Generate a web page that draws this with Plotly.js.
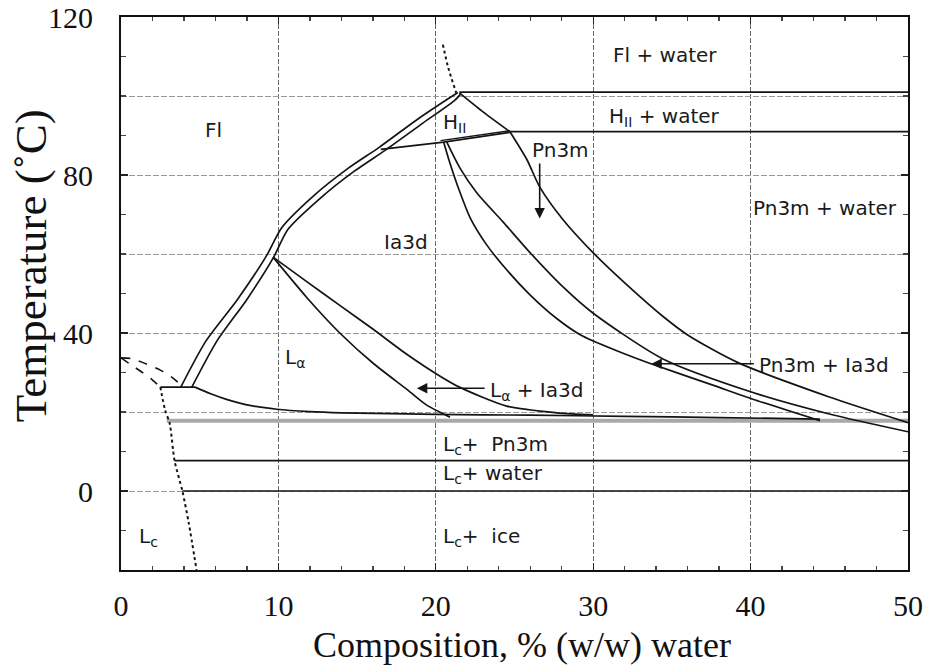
<!DOCTYPE html>
<html>
<head>
<meta charset="utf-8">
<script src="https://cdn.plot.ly/plotly-3.0.1.min.js"></script>
<style>html,body{margin:0;padding:0;background:#fff;}#chart{width:927px;height:672px;}</style>
</head>
<body>
<div id="chart"></div>
<script>
// ---- data (composition % w/w water, temperature °C) ----
const flOuterX = [3.8, 5.4, 7.4, 9.25, 10.2, 12.2, 14.4, 16.4, 18.8, 20.9, 21.4];
const flOuterY = [26.3, 38, 48.5, 59.6, 66.6, 74.6, 81.6, 87, 94, 99.6, 100.9];
const flInnerX = [4.5, 6.1, 8.0, 9.7, 10.6, 12.6, 14.8, 16.8, 19.2, 21.2, 21.6];
const flInnerY = [26.3, 38, 48.5, 59.2, 66.2, 73.9, 80.9, 86.3, 93.2, 98.9, 100.6];

const hiiRightX = [21.5, 23.0, 24.7];
const hiiRightY = [100.8, 96, 91];
const hiiBottomX = [16.5, 20.5, 24.7];
const hiiBottomY = [86.5, 88.3, 90.8];
const hiiBottom2X = [20.3, 22.5, 24.7];
const hiiBottom2Y = [88.7, 90.0, 91.2];

const flWaterX = [21.5, 50];
const flWaterY = [101, 101];
const hiiWaterX = [24.7, 50];
const hiiWaterY = [91, 91];

const pn3mX = [24.7, 25.8, 26.6, 28.1, 30, 32.3, 34.4, 36, 39.2, 45, 50];
const pn3mY = [91, 83.8, 77, 68.6, 60.3, 51.6, 44.3, 39.5, 32.5, 23.8, 17.3];
const curveBX = [20.7, 21.5, 22.6, 24.3, 26, 28.1, 30, 34.4, 40.1, 45, 50];
const curveBY = [88.3, 82, 75.5, 68, 60.3, 51.6, 45, 33.5, 25, 19.5, 15];
const curveAX = [20.5, 20.9, 21.5, 22.2, 23.2, 24.5, 26, 27.7, 29.2, 31.5, 33.4, 37.6, 40.1, 44.4];
const curveAY = [88.3, 83, 76, 69, 62.5, 56, 49.6, 43.6, 39.5, 35.5, 32.6, 26.8, 23.3, 17.8];

const laLowX = [9.66, 11.8, 13.9, 16.0, 18.2, 19.4, 20.9];
const laLowY = [59.2, 49, 40, 32.4, 25.6, 21.8, 18.7];
const laUpX = [9.66, 11.8, 13.9, 16.0, 18.2, 20.3, 21.5, 24.5, 27.7, 30];
const laUpY = [59.2, 53, 47, 41, 34.5, 29, 26.3, 21.5, 19.8, 19.3];

const lcTopX = [4.7, 5.7, 6.7, 8, 9.9, 12, 14, 20, 26, 32, 38, 44.4];
const lcTopY = [26.3, 24.6, 23.2, 21.8, 20.7, 20.1, 19.8, 19.4, 19.2, 18.9, 18.6, 18.2];
const tieX = [2.5, 4.7];
const tieY = [26.3, 26.3];
const bandX = [2.9, 50];
const bandY = [17.8, 17.8];
const waterLineX = [3.4, 50];
const waterLineY = [7.7, 7.7];
const iceLineX = [3.9, 50];
const iceLineY = [0, 0];

const dashUpX = [0, 0.7, 1.4, 2.5, 3.3, 3.9];
const dashUpY = [33.7, 33.5, 32.5, 30.6, 28.6, 26.5];
const dashLowX = [0, 0.7, 1.4, 2.0, 2.5];
const dashLowY = [33.7, 31.8, 29.9, 28.1, 26.3];
const dotX = [2.5, 2.8, 3.1, 3.4, 3.9, 4.3, 4.8];
const dotY = [26.3, 20.5, 17, 7.7, 0, -8, -20];
const topDotX = [20.45, 20.8, 21.3];
const topDotY = [113, 107, 100.8];

const xTickVals = [0, 10, 20, 30, 40, 50];
const yTickVals = [0, 40, 80, 120];
const yTickText = ['0', '40', '80', '120'];
const yGridVals = [20, 60, 100];
const xMinorVals = [2,4,6,8,12,14,16,18,22,24,26,28,32,34,36,38,42,44,46,48];
const yMinorVals = [-10,10,20,30,50,60,70,90,100,110];
const xTitle = 'Composition, % (w/w) water';
const yTitle = 'Temperature (˚C)';

// ---- drawing ----
const INK = '#141414';
function ln(x, y, opts) {
  opts = opts || {};
  return {
    x: x, y: y, type: 'scatter', mode: 'lines', hoverinfo: 'skip',
    line: {color: opts.color || INK, width: opts.width || 1.7, dash: opts.dash || 'solid',
           shape: opts.spline ? 'spline' : 'linear', smoothing: 0.7}
  };
}
const traces = [
  ln(bandX, bandY, {color: '#a9a9a9', width: 4}),
  ln(flOuterX, flOuterY, {spline: true}),
  ln(flInnerX, flInnerY, {spline: true}),
  ln(hiiRightX, hiiRightY, {spline: true}),
  ln(hiiBottomX, hiiBottomY),
  ln(hiiBottom2X, hiiBottom2Y, {width: 1.3}),
  ln(flWaterX, flWaterY),
  ln(hiiWaterX, hiiWaterY),
  ln(pn3mX, pn3mY, {spline: true}),
  ln(curveBX, curveBY, {spline: true}),
  ln(curveAX, curveAY, {spline: true}),
  ln(laLowX, laLowY, {spline: true}),
  ln(laUpX, laUpY, {spline: true}),
  ln(lcTopX, lcTopY, {spline: true}),
  ln(tieX, tieY),
  ln(waterLineX, waterLineY),
  ln(iceLineX, iceLineY),
  ln(dashUpX, dashUpY, {dash: 'dash', spline: true, width: 1.6}),
  ln(dashLowX, dashLowY, {dash: 'dash', spline: true, width: 1.6}),
  ln(dotX, dotY, {dash: 'dot', spline: true, width: 2}),
  ln(topDotX, topDotY, {dash: 'dot', spline: true, width: 2})
];

const LF = {family: 'DejaVu Sans, Liberation Sans, sans-serif', size: 20, color: '#1a1a1a'};
function lab(text, x, y, anchor) {
  return {text: text, x: x, y: y, xref: 'x', yref: 'y', showarrow: false,
          xanchor: anchor || 'left', yanchor: 'middle', font: LF};
}
function arrow(x, y, ax, ay) {
  return {text: '', x: x, y: y, ax: ax, ay: ay, xref: 'x', yref: 'y', axref: 'x', ayref: 'y',
          showarrow: true, arrowhead: 2, arrowsize: 1.3, arrowwidth: 1.6, arrowcolor: INK, standoff: 0};
}
const serif = 'Liberation Serif, Times New Roman, serif';
const annotations = [
  lab('Fl', 5.85, 91.4, 'center'),
  lab('Fl + water', 31.1, 110.4),
  lab('H<sub>II</sub> + water', 30.9, 94.8),
  lab('H<sub>II</sub>', 20.3, 93.2),
  lab('Pn3m', 26.0, 86.3),
  lab('Pn3m + water', 40.0, 71.6),
  lab('Ia3d', 18.1, 63, 'center'),
  lab('L<sub>α</sub>', 10.3, 33.6),
  lab('L<sub>α</sub> + Ia3d', 23.3, 25.2),
  lab('Pn3m + Ia3d', 40.4, 31.9),
  lab('L<sub>c</sub>+&nbsp; Pn3m', 20.3, 11.6),
  lab('L<sub>c</sub>+ water', 20.3, 4.4),
  lab('L<sub>c</sub>+&nbsp; ice', 20.3, -11.6),
  lab('L<sub>c</sub>', 1.0, -11.6),
  arrow(26.6, 69, 26.6, 83.3),
  arrow(18.8, 26, 23.2, 26),
  arrow(33.7, 32.2, 40.3, 32.2),
  {text: xTitle, xref: 'paper', yref: 'paper', x: 0.51, y: -0.136, xanchor: 'center', yanchor: 'middle',
   showarrow: false, font: {family: serif, size: 36, color: '#111'}},
  {text: yTitle, xref: 'paper', yref: 'paper', x: -0.114, y: 0.55, xanchor: 'center', yanchor: 'middle',
   textangle: -90, showarrow: false, font: {family: serif, size: 45, color: '#111'}}
];

const layout = {
  width: 927, height: 672,
  margin: {l: 121, r: 19, t: 17, b: 102},
  paper_bgcolor: '#fff', plot_bgcolor: '#fff',
  showlegend: false,
  xaxis: {
    range: [0, 50], tickmode: 'array', tickvals: xTickVals,
    ticks: 'inside', ticklen: 7, tickwidth: 1.4, tickcolor: '#222',
    showline: true, linewidth: 2, linecolor: '#111', mirror: 'ticks',
    showgrid: true, gridcolor: '#6a6a6a', griddash: '5px,2px', gridwidth: 1,
    zeroline: false,
    tickfont: {family: serif, size: 30, color: '#111'},
    ticklabelstandoff: 8,
    minor: {tickmode: 'array', tickvals: xMinorVals, ticks: 'inside', ticklen: 4, tickcolor: '#444', showgrid: false}
  },
  yaxis: {
    range: [-20, 120], tickmode: 'array', tickvals: yTickVals, ticktext: yTickText,
    ticks: 'inside', ticklen: 7, tickwidth: 1.4, tickcolor: '#222',
    showline: true, linewidth: 2, linecolor: '#111', mirror: 'ticks',
    showgrid: true, gridcolor: '#9a9a9a', griddash: '6px,2px', gridwidth: 1,
    zeroline: false,
    tickfont: {family: serif, size: 30, color: '#111'},
    ticklabelstandoff: 20,
    minor: {tickmode: 'array', tickvals: yMinorVals, ticks: 'inside', ticklen: 5, tickcolor: '#444', showgrid: false}
  },
  yaxis2: {
    range: [-20, 120], overlaying: 'y', side: 'left', tickmode: 'array', tickvals: yGridVals,
    showticklabels: false, ticks: '', showline: false, zeroline: false,
    showgrid: true, gridcolor: '#9a9a9a', griddash: '6px,2px', gridwidth: 1
  },
  annotations: annotations
};

traces.push({x: [0], y: [0], yaxis: 'y2', type: 'scatter', mode: 'markers', marker: {opacity: 0}, hoverinfo: 'skip'});

Plotly.newPlot('chart', traces, layout, {displayModeBar: false, staticPlot: true});
</script>
</body>
</html>
